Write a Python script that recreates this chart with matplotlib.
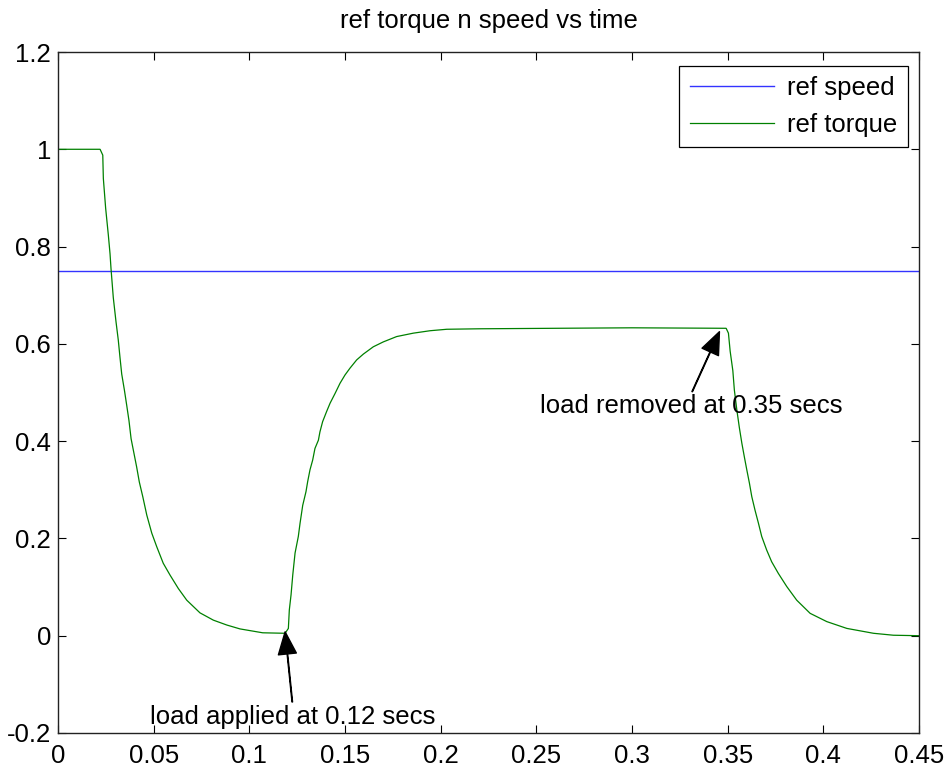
import matplotlib
matplotlib.use("Agg")
import matplotlib.pyplot as plt
from matplotlib.ticker import FuncFormatter

plt.rcParams['font.family'] = ['Liberation Sans', 'DejaVu Sans']
plt.rcParams['axes.unicode_minus'] = False

# values
ref_speed = 0.75
t_torque = [0.0, 0.022, 0.0234, 0.0237, 0.0249, 0.0263, 0.0272, 0.0277, 0.0289, 0.0303,
            0.0315, 0.0324, 0.0333, 0.0347, 0.0359, 0.0371, 0.0382, 0.0397, 0.0411,
            0.0425, 0.0443, 0.0464, 0.0490, 0.0516, 0.0550, 0.0585, 0.0629, 0.0673,
            0.0742, 0.0812, 0.0882, 0.0951, 0.107, 0.1187,
            0.1204, 0.1209, 0.1218, 0.1227, 0.1239, 0.1256, 0.1265, 0.1279, 0.1296,
            0.1305, 0.1317, 0.1331, 0.1343, 0.1361, 0.1369, 0.1383, 0.1404, 0.1422,
            0.1448, 0.1474, 0.1500, 0.1526, 0.1561, 0.1596, 0.1648, 0.1700, 0.1770,
            0.1857, 0.1945, 0.2032, 0.2206, 0.26, 0.30, 0.3492,
            0.3504, 0.3513, 0.3527, 0.3535, 0.3548, 0.3561, 0.3574, 0.3587, 0.3600,
            0.3614, 0.3626, 0.3643, 0.3661, 0.3678, 0.3704, 0.3730, 0.3765, 0.3809,
            0.3861, 0.3931, 0.4018, 0.4123, 0.4262, 0.4366, 0.45]
torque = [1.0, 1.0, 0.988, 0.940, 0.879, 0.824, 0.785, 0.755, 0.695, 0.646,
          0.608, 0.572, 0.538, 0.505, 0.474, 0.442, 0.405, 0.375, 0.347,
          0.316, 0.286, 0.248, 0.211, 0.183, 0.149, 0.125, 0.097, 0.073,
          0.047, 0.032, 0.022, 0.014, 0.006, 0.005,
          0.015, 0.053, 0.084, 0.125, 0.170, 0.204, 0.231, 0.268, 0.296,
          0.317, 0.341, 0.361, 0.385, 0.402, 0.419, 0.440, 0.461, 0.478,
          0.498, 0.519, 0.536, 0.550, 0.567, 0.579, 0.594, 0.604, 0.615,
          0.622, 0.627, 0.630, 0.631, 0.632, 0.633, 0.632,
          0.622, 0.585, 0.545, 0.505, 0.464, 0.428, 0.396, 0.368, 0.341,
          0.313, 0.286, 0.258, 0.231, 0.204, 0.176, 0.152, 0.128, 0.101,
          0.073, 0.046, 0.029, 0.015, 0.005, 0.001, 0.0]

xticks = [0, 0.05, 0.1, 0.15, 0.2, 0.25, 0.3, 0.35, 0.4, 0.45]
yticks = [-0.2, 0, 0.2, 0.4, 0.6, 0.8, 1.0, 1.2]

fs = 18.5
fig = plt.figure(figsize=(9.49, 7.69), dpi=100)
ax = fig.add_axes([58 / 949, 1 - 733 / 769, 861 / 949, 681 / 769])

ax.plot([0, 0.45], [ref_speed, ref_speed], color=(0.2, 0.2, 1), lw=1.0, label='ref speed')
ax.plot(t_torque, torque, color=(0, 0.5, 0), lw=0.9, label='ref torque')

ax.set_xlim(0, 0.45)
ax.set_ylim(-0.2, 1.2)
ax.set_xticks(xticks)
ax.set_yticks(yticks)
fmt = FuncFormatter(lambda v, p: '%g' % round(v, 3))
ax.xaxis.set_major_formatter(fmt)
ax.yaxis.set_major_formatter(fmt)
ax.tick_params(direction='in', length=6, width=0.8, top=True, right=True, labelsize=fs)
ax.tick_params(axis='x', pad=8)
ax.tick_params(axis='y', pad=5)
for s in ax.spines.values():
    s.set_linewidth(1.0)
    s.set_color('#222222')

ax.text(0.5, (733 - 28) / 681, 'ref torque n speed vs time', transform=ax.transAxes,
        ha='center', va='baseline', fontsize=fs)

arrow = dict(facecolor='black', edgecolor='black', width=0.4, headwidth=13,
             headlength=16, shrink=0)
ax.annotate('load applied at 0.12 secs', xy=(0.1187, 0.008), xytext=(0.1226, -0.181),
            ha='center', va='baseline', fontsize=fs, arrowprops=arrow)
ax.annotate('load removed at 0.35 secs', xy=(0.3457, 0.625), xytext=(0.3308, 0.457),
            ha='center', va='baseline', fontsize=fs, arrowprops=arrow)

leg = ax.legend(loc='upper right', bbox_to_anchor=(0.987, 0.980), borderaxespad=0,
                fontsize=fs, fancybox=False, edgecolor='black', framealpha=1,
                handlelength=3.3, handletextpad=0.5, labelspacing=0.5, borderpad=0.4)
leg.get_frame().set_linewidth(0.9)

fig.savefig('out.png', dpi=100)
